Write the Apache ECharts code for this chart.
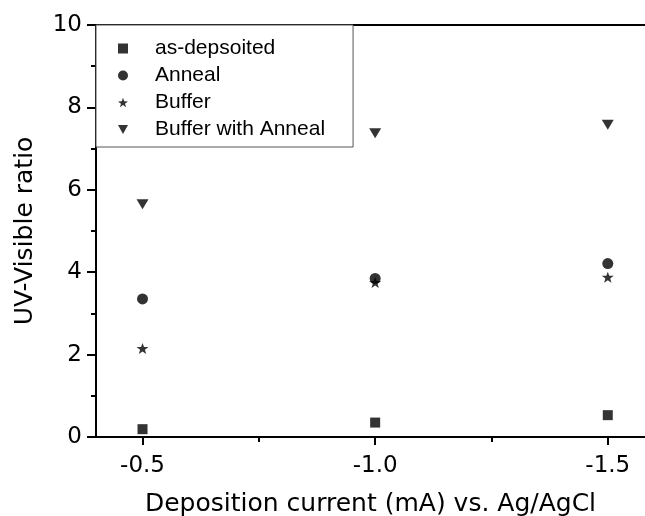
<!DOCTYPE html>
<html>
<head>
<meta charset="utf-8">
<script src="https://cdn.jsdelivr.net/npm/echarts@6/dist/echarts.min.js"></script>
<style>
  html, body { margin: 0; padding: 0; background: #fff; }
  #main { width: 645px; height: 516px; }
</style>
</head>
<body>
<div id="main"></div>
<script>
var currents = [-0.5, -1.0, -1.5];
var asDeposited = [0.19, 0.35, 0.53];
var anneal = [3.35, 3.85, 4.21];
var buffer = [2.15, 3.75, 3.88];
var bufferAnneal = [5.65, 7.37, 7.58];
var xMajorTicks = [-0.5, -1.0, -1.5];
var xMinorTicks = [-0.75, -1.25];

var FONT = 'Liberation Sans, Arial, sans-serif';
var AXIS_FONT = 'DejaVu Sans, sans-serif';
var SQUARE = 'path://M0,0L10,0L10,10L0,10Z';
var STAR = 'path://M10,0L12.35,6.76L19.51,6.91L13.8,11.24L15.88,18.09L10,14L4.12,18.09L6.2,11.24L0.49,6.91L7.65,6.76Z';
var TRI_DOWN = 'path://M0,0L10,0L5,9Z';

function pairs(ys) {
    return currents.map(function (x, i) { return [x, ys[i]]; });
}

var chart = echarts.init(document.getElementById('main'));

// 轴的公共部分
var xBase = {
    type: 'value',
    inverse: true,
    min: -1.58,
    max: -0.4,
    splitLine: { show: false }
};

var option = {
    backgroundColor: '#fff',
    animation: false,
    textStyle: { fontFamily: FONT, color: '#000' },
    grid: { left: 96, right: 0, top: 25, bottom: 79, outerBoundsMode: 'none', containLabel: false },
    legend: {
        orient: 'vertical',
        left: 96,
        top: 25,
        padding: [10, 28, 4, 22],
        itemWidth: 10,
        itemHeight: 10,
        itemGap: 0,
        borderColor: '#555',
        borderWidth: 1,
        backgroundColor: '#fff',
        textStyle: { fontFamily: FONT, fontSize: 21, color: '#000', lineHeight: 27,
                     padding: [0, 0, 0, 22] },
        data: ['as-depsoited', 'Anneal', 'Buffer', 'Buffer with Anneal']
    },
    xAxis: [
        Object.assign({}, xBase, {
            position: 'bottom',
            name: 'Deposition current (mA) vs. Ag/AgCl',
            nameLocation: 'middle',
            nameGap: 55,
            nameTextStyle: { fontFamily: AXIS_FONT, fontSize: 25, color: '#000' },
            axisLine: { onZero: false, lineStyle: { color: '#000', width: 2 } },
            axisTick: { show: true, length: 8, inside: false, customValues: xMajorTicks,
                        lineStyle: { color: '#000', width: 2 } },
            axisLabel: { customValues: xMajorTicks, margin: 18, fontSize: 23, color: '#000',
                         fontFamily: AXIS_FONT,
                         formatter: function (v) { return v.toFixed(1); } }
        }),
        Object.assign({}, xBase, {
            position: 'bottom',
            axisLine: { show: false },
            axisTick: { show: true, length: 5, customValues: xMinorTicks,
                        lineStyle: { color: '#000', width: 2 } },
            axisLabel: { show: false }
        }),
        Object.assign({}, xBase, {
            position: 'top',
            axisLine: { onZero: false, lineStyle: { color: '#000', width: 2 } },
            axisTick: { show: false },
            axisLabel: { show: false }
        })
    ],
    yAxis: {
        type: 'value',
        min: 0,
        max: 10,
        interval: 2,
        name: 'UV-Visible ratio',
        nameLocation: 'middle',
        nameGap: 58,
        nameTextStyle: { fontFamily: AXIS_FONT, fontSize: 25, color: '#000' },
        axisLine: { show: true, onZero: false, lineStyle: { color: '#000', width: 2 } },
        axisTick: { show: true, length: 9, lineStyle: { color: '#000', width: 2 } },
        minorTick: { show: true, splitNumber: 2, length: 5, lineStyle: { color: '#000', width: 2 } },
        splitLine: { show: false },
        axisLabel: { margin: 14, fontSize: 23, color: '#000', fontFamily: AXIS_FONT }
    },
    series: [
        {
            name: 'as-depsoited',
            type: 'scatter',
            symbol: SQUARE,
            symbolSize: 10,
            itemStyle: { color: '#000' },
            data: pairs(asDeposited)
        },
        {
            name: 'Anneal',
            type: 'scatter',
            symbol: 'circle',
            symbolSize: 11,
            itemStyle: { color: '#000' },
            data: pairs(anneal)
        },
        {
            name: 'Buffer',
            type: 'scatter',
            symbol: STAR,
            symbolSize: [12, 11],
            itemStyle: { color: '#000' },
            data: pairs(buffer)
        },
        {
            name: 'Buffer with Anneal',
            type: 'scatter',
            symbol: TRI_DOWN,
            symbolSize: [12, 10],
            itemStyle: { color: '#000' },
            data: pairs(bufferAnneal)
        }
    ]
};

chart.setOption(option);
</script>
</body>
</html>
